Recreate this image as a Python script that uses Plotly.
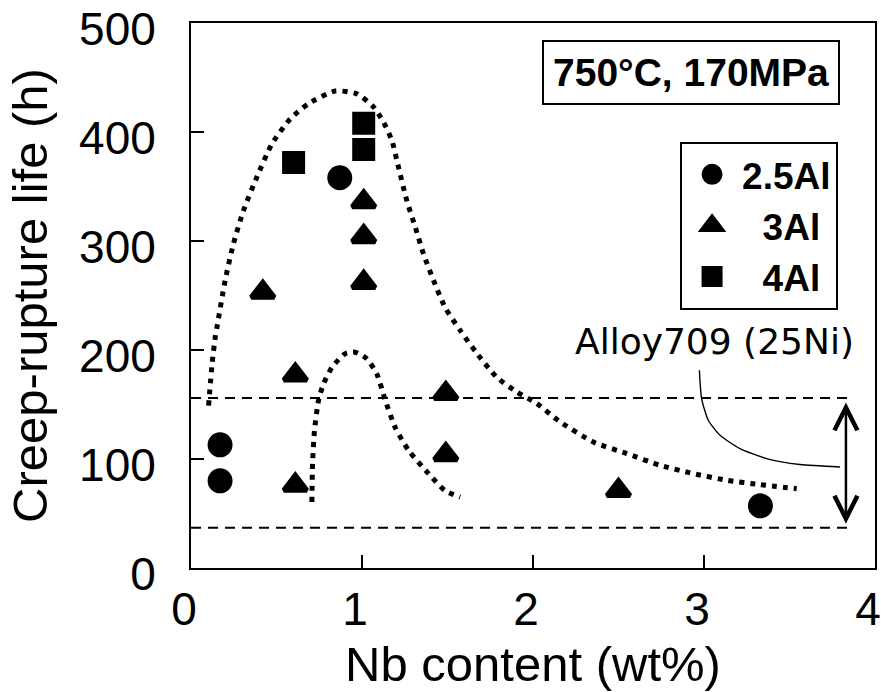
import plotly.graph_objects as go

# ---------------- data ----------------
nb_25al = [0.17, 0.17, 0.87, 3.33]
life_25al = [113, 80, 358, 57]

nb_3al = [0.42, 0.61, 0.61, 1.01, 1.01, 1.01, 1.49, 1.49, 2.50]
life_3al = [253, 177, 76, 336, 304, 262, 160, 104, 71]

nb_4al = [0.60, 1.01, 1.01]
life_4al = [372, 408, 384]

# upper dotted trend curve
upper_x = [0.103, 0.123, 0.142, 0.152, 0.20, 0.249, 0.307, 0.386, 0.473, 0.58, 0.687,
           0.843, 0.97, 1.067, 1.126, 1.175, 1.213, 1.262, 1.311, 1.36, 1.418, 1.486,
           1.574, 1.671, 1.788, 1.905, 2.022, 2.15, 2.353, 2.548, 2.743, 2.937, 3.133,
           3.327, 3.542]
upper_y = [149, 187, 212, 221, 264, 298, 328, 359, 389, 412, 426,
           437.6, 435, 423, 409, 392, 368, 337, 313, 288, 264, 239,
           218, 197, 175, 161.5, 151, 135, 115.6, 105, 94.2, 86.6, 80.5,
           76.5, 72.8]

# lower dotted trend curve
lower_x = [0.707, 0.711, 0.722, 0.746, 0.775, 0.824, 0.902, 0.96, 1.028, 1.087,
           1.136, 1.194, 1.272, 1.389, 1.486, 1.574]
lower_y = [60.5, 96, 126, 154, 169, 184, 196.7, 198, 192, 178,
           154, 129, 108, 86.6, 71, 65]

# Alloy709 (25Ni) band
alloy709_band = [37, 156]
band_x = [0, 3.873]
arrow_x = 3.83
arrow_y = [40.7, 153.2]

# callout leader line
callout_x = [2.973, 2.986, 3.025, 3.094, 3.21, 3.366, 3.561, 3.795]
callout_y = [181.4, 155.4, 135.5, 121.7, 109.5, 100.4, 94.9, 92.7]
alloy_label = "Alloy709 (25Ni)"
alloy_label_pos = [3.064, 208]

x_ticks = [0, 1, 2, 3, 4]
y_ticks = [0, 100, 200, 300, 400, 500]

FONT = "Liberation Sans, Arial, sans-serif"

fig = go.Figure()

dot_style = dict(color="black", width=5, dash="5px,6px")
fig.add_trace(go.Scatter(x=upper_x, y=upper_y, mode="lines", line=dict(shape="spline", smoothing=0.6, **dot_style),
                         showlegend=False, hoverinfo="skip"))
fig.add_trace(go.Scatter(x=lower_x, y=lower_y, mode="lines", line=dict(shape="spline", smoothing=0.6, **dot_style),
                         showlegend=False, hoverinfo="skip"))

for yv in alloy709_band:
    fig.add_trace(go.Scatter(x=band_x, y=[yv, yv], mode="lines",
                             line=dict(color="black", width=2, dash="10px,7px"),
                             showlegend=False, hoverinfo="skip"))

fig.add_trace(go.Scatter(x=callout_x, y=callout_y, mode="lines",
                         line=dict(color="black", width=1.4, shape="spline", smoothing=0.6),
                         showlegend=False, hoverinfo="skip"))

fig.add_trace(go.Scatter(x=nb_25al, y=life_25al, mode="markers", name="2.5Al",
                         marker=dict(symbol="circle", size=20, color="black",
                                     line=dict(color="black", width=5))))
fig.add_trace(go.Scatter(x=nb_3al, y=life_3al, mode="markers", name="\u00a0\u00a03Al",
                         marker=dict(symbol="triangle-up", size=20, color="black",
                                     line=dict(color="black", width=5))))
fig.add_trace(go.Scatter(x=nb_4al, y=life_4al, mode="markers", name="\u00a0\u00a04Al",
                         marker=dict(symbol="square", size=18, color="black",
                                     line=dict(color="black", width=5))))

# double arrow
fig.add_annotation(x=arrow_x, y=arrow_y[0], ax=arrow_x, ay=arrow_y[1],
                   xref="x", yref="y", axref="x", ayref="y", text="",
                   showarrow=True, arrowhead=5, startarrowhead=5, arrowside="end+start",
                   arrowwidth=2.5, arrowsize=1.8, startarrowsize=1.8, arrowcolor="black")

fig.add_annotation(x=alloy_label_pos[0], y=alloy_label_pos[1], xref="x", yref="y",
                   text=alloy_label, showarrow=False,
                   font=dict(family="DejaVu Sans", size=36, color="black"))

fig.add_annotation(x=0.7308, y=0.9086, xref="paper", yref="paper",
                   xanchor="center", yanchor="middle",
                   text="<b>750°C, 170MPa</b>", showarrow=False,
                   font=dict(family=FONT, size=39, color="black"),
                   bordercolor="black", borderwidth=2, borderpad=9, bgcolor="white")

axis_common = dict(showline=True, linecolor="black", linewidth=2, mirror=True,
                   ticks="inside", ticklen=13, tickwidth=2, tickcolor="black",
                   showgrid=False, zeroline=False, ticklabeloverflow="allow",
                   tickfont=dict(family=FONT, size=46, color="black"))

fig.update_xaxes(range=[0, 4], tickvals=x_ticks, ticktext=[str(v) for v in x_ticks],
                 ticklabelstandoff=0, ticklabelshift=-7,
                 title=dict(text="Nb content (wt%)", font=dict(family=FONT, size=49, color="black"),
                            standoff=12),
                 **axis_common)
fig.update_yaxes(range=[0, 500], tickvals=y_ticks, ticktext=[str(v) for v in y_ticks],
                 ticklabelstandoff=24, ticklabelshift=6,
                 title=dict(text="Creep-rupture life (h)", font=dict(family=FONT, size=49, color="black"),
                            standoff=16),
                 **axis_common)

fig.update_layout(
    width=881, height=692,
    margin=dict(l=191, r=6, t=23, b=124, autoexpand=False),
    paper_bgcolor="white", plot_bgcolor="white",
    font=dict(family=FONT, color="black"),
    showlegend=True,
    legend=dict(x=0.946, y=0.782, xanchor="right", yanchor="top",
                bordercolor="black", borderwidth=2, bgcolor="white",
                font=dict(family=FONT, size=37, color="black", weight="bold"),
                itemwidth=50, tracegroupgap=0),
)

fig.write_html("out.html", config={"displayModeBar": False},
               post_script="document.body.style.margin='0';document.body.style.overflow='hidden';")
